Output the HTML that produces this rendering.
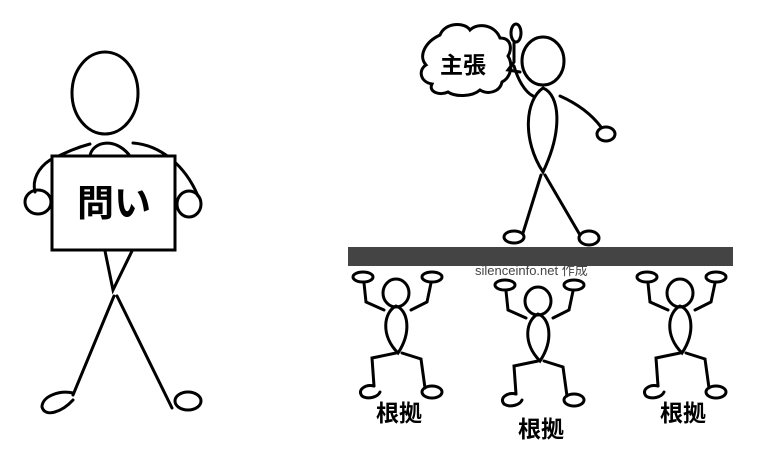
<!DOCTYPE html>
<html><head><meta charset="utf-8"><style>
html,body{margin:0;padding:0;background:#fff}
svg{display:block}
text{font-family:"Liberation Sans","Noto Sans CJK JP",sans-serif}
</style></head><body>
<svg width="768" height="464" viewBox="0 0 768 464" xmlns="http://www.w3.org/2000/svg">
<defs>
<g id="sup" fill="none" stroke="#000" stroke-width="3" stroke-linecap="round">
  <ellipse cx="396" cy="293" rx="13" ry="14"/>
  <ellipse cx="363" cy="277" rx="10" ry="5"/>
  <ellipse cx="432" cy="277" rx="10" ry="5"/>
  <path d="M364 283 L366 302 L384 310"/>
  <path d="M431 283 L427 302 L411 310"/>
  <path d="M398 353 C380 335 384 312 396 306 C408 310 412 332 398 353 Z"/>
  <path d="M396 353 L372 358 L374 386"/>
  <path d="M402 353 L421 359 L425 388"/>
  <path d="M374 386 C365 384 357 390 362 396 C368 400 378 397 380 392"/>
  <ellipse cx="432" cy="392" rx="10" ry="6"/>
</g>
</defs>
<!-- left figure -->
<g fill="none" stroke="#000" stroke-width="3" stroke-linecap="round">
  <ellipse cx="105" cy="93" rx="33" ry="41"/>
  <path d="M90 156 C92 142 115 136 130 156"/>
  <path d="M90 144 C75 148 65 153 50 160 C38 168 32 180 35 192"/>
  <ellipse cx="38" cy="202" rx="13" ry="12"/>
  <path d="M133 143 C160 145 185 165 198 196"/>
  <ellipse cx="189" cy="204" rx="12" ry="13"/>
  <path d="M105 251 L113 290 L132 251"/>
  <path d="M114 296 L73 395"/>
  <path d="M117 296 L172 408"/>
  <path d="M73 393 C60 390 42 396 42 407 C45 418 62 412 73 400"/>
  <ellipse cx="188" cy="401" rx="13" ry="9"/>
</g>
<rect x="52" y="156" width="123" height="94" fill="#fff" stroke="#000" stroke-width="3"/>
<text x="114" y="216" font-size="37" font-weight="bold" text-anchor="middle">問い</text>
<!-- top figure -->
<g fill="none" stroke="#000" stroke-width="3" stroke-linecap="round">
  <path d="M440 35 C445 22 465 22 470 30 C478 22 495 25 500 38 C512 38 512 50 508 56 C514 66 510 78 502 82 C500 92 488 95 480 90 C472 97 455 97 448 92 C440 96 428 92 432 84 C420 82 418 70 426 65 C418 56 425 42 440 35 Z"/>
  <ellipse cx="543" cy="61" rx="21" ry="24"/>
  <ellipse cx="516" cy="33" rx="5" ry="9"/>
  <path d="M514 43 L514 62 L508 70 L520 72"/>
  <path d="M514 66 C518 80 525 92 533 96"/>
  <path d="M543 172 C522 140 525 100 543 88 C560 95 563 130 543 172 Z"/>
  <path d="M560 96 C578 104 592 115 601 127"/>
  <ellipse cx="606" cy="134" rx="9" ry="7"/>
  <path d="M541 175 L523 233"/>
  <path d="M545 175 L580 235"/>
  <ellipse cx="514" cy="237" rx="10" ry="6"/>
  <ellipse cx="589" cy="238" rx="10" ry="7"/>
</g>
<text x="463" y="73" font-size="23" font-weight="bold" text-anchor="middle">主張</text>
<rect x="348" y="247" width="385" height="19" fill="#444"/>
<text x="475" y="275" font-size="13" fill="#444">silenceinfo.net 作成</text>
<use href="#sup"/>
<use href="#sup" transform="translate(142,8)"/>
<use href="#sup" transform="translate(284,0)"/>
<text x="399" y="421" font-size="23" font-weight="bold" text-anchor="middle">根拠</text>
<text x="541" y="437" font-size="23" font-weight="bold" text-anchor="middle">根拠</text>
<text x="683" y="421" font-size="23" font-weight="bold" text-anchor="middle">根拠</text>
</svg>
</body></html>
